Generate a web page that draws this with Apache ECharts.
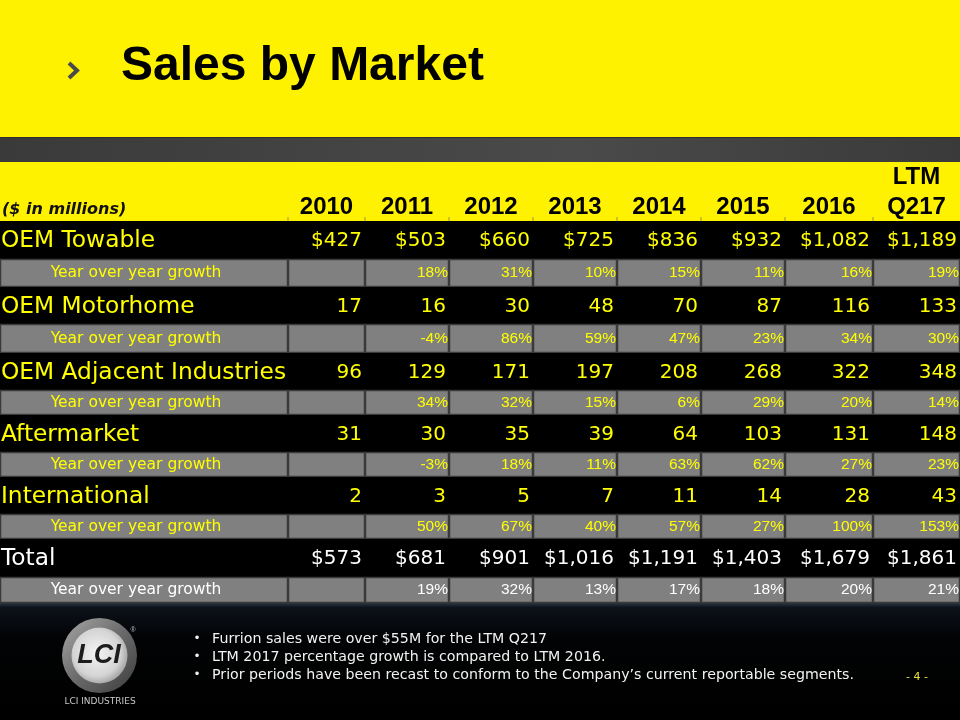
<!DOCTYPE html>
<html><head><meta charset="utf-8">
<script src="https://cdn.jsdelivr.net/npm/echarts@6/dist/echarts.min.js"></script>
<style>html,body{margin:0;padding:0;background:#FFF200;}#c{width:960px;height:720px;}</style>
</head><body><div id="c"></div>
<script>
// ---- data ----
const unitsLabel = '($ in millions)';
const columns = ['2010', '2011', '2012', '2013', '2014', '2015', '2016', 'LTM\nQ217'];
const markets = ['OEM Towable', 'OEM Motorhome', 'OEM Adjacent Industries', 'Aftermarket', 'International', 'Total'];
const growthLabel = 'Year over year growth';
const oemTowable = [427, 503, 660, 725, 836, 932, 1082, 1189];
const oemTowableGrowth = [null, 18, 31, 10, 15, 11, 16, 19];
const oemMotorhome = [17, 16, 30, 48, 70, 87, 116, 133];
const oemMotorhomeGrowth = [null, -4, 86, 59, 47, 23, 34, 30];
const oemAdjacent = [96, 129, 171, 197, 208, 268, 322, 348];
const oemAdjacentGrowth = [null, 34, 32, 15, 6, 29, 20, 14];
const aftermarket = [31, 30, 35, 39, 64, 103, 131, 148];
const aftermarketGrowth = [null, -3, 18, 11, 63, 62, 27, 23];
const international = [2, 3, 5, 7, 11, 14, 28, 43];
const internationalGrowth = [null, 50, 67, 40, 57, 27, 100, 153];
const total = [573, 681, 901, 1016, 1191, 1403, 1679, 1861];
const totalGrowth = [null, 19, 32, 13, 17, 18, 20, 21];
const bullets = [
  'Furrion sales were over $55M for the LTM Q217',
  'LTM 2017 percentage growth is compared to LTM 2016.',
  'Prior periods have been recast to conform to the Company\u2019s current reportable segments.'
];

// ---- layout ----
const colWidths = [288, 77, 84, 84, 84, 84, 84, 88, 87];
const rowHeights = [59, 38, 28, 37, 29, 37, 25, 37, 25, 37, 25, 38, 26];
const colEdge = [0]; colWidths.forEach(w => colEdge.push(colEdge[colEdge.length - 1] + w));
const rowEdge = [0]; rowHeights.forEach(h => rowEdge.push(rowEdge[rowEdge.length - 1] + h));

const series = [
  [markets[0], oemTowable, oemTowableGrowth, true],
  [markets[1], oemMotorhome, oemMotorhomeGrowth, false],
  [markets[2], oemAdjacent, oemAdjacentGrowth, false],
  [markets[3], aftermarket, aftermarketGrowth, false],
  [markets[4], international, internationalGrowth, false],
  [markets[5], total, totalGrowth, true]
];
const fmt = (v, money) => (money ? '$' : '') + v.toLocaleString('en-US');

const cells = [];
cells.push({c: 0, r: 0, kind: 'header', text: unitsLabel});
columns.forEach((t, i) => cells.push({c: i + 1, r: 0, kind: 'header', text: t}));
series.forEach((s, k) => {
  const rMain = 1 + k * 2, rG = rMain + 1;
  const isTotal = k === series.length - 1;
  cells.push({c: 0, r: rMain, kind: 'main', text: s[0], total: isTotal});
  s[1].forEach((v, i) => cells.push({c: i + 1, r: rMain, kind: 'main', text: fmt(v, s[3]), total: isTotal}));
  cells.push({c: 0, r: rG, kind: 'growth', text: growthLabel, total: isTotal});
  s[2].forEach((v, i) => cells.push({c: i + 1, r: rG, kind: 'growth', text: v == null ? '' : v + '%', total: isTotal}));
});

const YEL = '#FFF200';
const TXT_Y = '#FFFF00';
const chart = echarts.init(document.getElementById('c'), null, {renderer: 'canvas'});

function txt(text, x, y, fill, font, align, extra) {
  return {type: 'text', style: Object.assign({text, x, y, fill, font, textAlign: align, textVerticalAlign: 'middle', align: align, verticalAlign: 'middle'}, extra || {})};
}

function renderItem(params, api) {
  const cell = cells[params.dataIndex];
  const c = api.value(0), r = api.value(1);
  const p0 = api.coord([colEdge[c], rowEdge[r]]);
  const p1 = api.coord([colEdge[c + 1], rowEdge[r + 1]]);
  const x0 = p0[0], y0 = p0[1], w = p1[0] - p0[0], h = p1[1] - p0[1];
  const yc = y0 + h / 2;
  const children = [];
  if (cell.kind === 'header') {
    children.push({type: 'rect', shape: {x: x0, y: y0, width: w, height: h}, style: {fill: YEL}});
    if (c > 0) {
      children.push({type: 'rect', shape: {x: x0 - 0.5, y: y0 + h - 4, width: 1, height: 4}, style: {fill: '#9b9550'}});
    }
    if (c === 0) {
      children.push(txt(cell.text, x0 + 2, y0 + 48, '#111', 'italic bold 16px "DejaVu Sans"', 'left'));
    } else {
      const multi = cell.text.indexOf('\n') >= 0;
      children.push(txt(cell.text, x0 + w / 2, multi ? y0 + 30 : y0 + 45, '#000', 'bold 24px "Liberation Sans"', 'center', {lineHeight: 30}));
    }
  } else if (cell.kind === 'main') {
    children.push({type: 'rect', shape: {x: x0, y: y0, width: w, height: h}, style: {fill: '#000'}});
    const col = cell.total ? '#ffffff' : TXT_Y;
    if (c === 0) {
      children.push(txt(cell.text, x0 + 1, yc + 1, col, '23.3px "DejaVu Sans"', 'left'));
    } else {
      children.push(txt(cell.text, x0 + w - 3, yc + 1, col, '20px "DejaVu Sans"', 'right'));
    }
  } else {
    children.push({type: 'rect', shape: {x: x0 + 0.5, y: y0 + 0.5, width: w - 1, height: h - 1},
      style: {fill: '#808080', stroke: '#3a3a3a', lineWidth: 1.5}});
    const col = cell.total ? '#ffffff' : TXT_Y;
    if (c === 0) {
      children.push(txt(cell.text, x0 + 136, yc, col, '15.5px "DejaVu Sans"', 'center'));
    } else {
      children.push(txt(cell.text, x0 + w - 1, yc, col, '15.5px "Liberation Sans"', 'right'));
    }
  }
  return {type: 'group', children};
}

const graphics = [
  {type: 'rect', shape: {x: 0, y: 137, width: 960, height: 25}, style: {fill: new echarts.graphic.LinearGradient(0, 0, 1, 0, [
    {offset: 0, color: '#3a3a3a'}, {offset: 0.6, color: '#4a4a4a'}, {offset: 1, color: '#3a3a3a'}])}, z: 1},
  {type: 'rect', shape: {x: 0, y: 137, width: 960, height: 1}, style: {fill: '#2e2e2e'}, z: 2},
  {type: 'polyline', shape: {points: [[69, 63], [77, 70.5], [69, 78]]}, style: {stroke: '#4a4a4a', lineWidth: 4, fill: null}, z: 2},
  txt('Sales by Market', 121, 67, '#000', 'bold 48px "Liberation Sans"', 'left'),
  {type: 'rect', shape: {x: 0, y: 603, width: 960, height: 117}, style: {fill: new echarts.graphic.LinearGradient(0, 0, 0, 1, [
    {offset: 0, color: '#2b3542'}, {offset: 0.04, color: '#0c121a'}, {offset: 0.3, color: '#020304'}, {offset: 1, color: '#000'}])}, z: 1},
  {type: 'circle', shape: {cx: 99.5, cy: 655.5, r: 37.5}, style: {fill: new echarts.graphic.LinearGradient(0, 0, 1, 1, [
    {offset: 0, color: '#a8a8a8'}, {offset: 0.5, color: '#6a6a6a'}, {offset: 1, color: '#3c3c3c'}])}, z: 2},
  {type: 'circle', shape: {cx: 99.5, cy: 655.5, r: 28}, style: {fill: new echarts.graphic.RadialGradient(0.45, 0.45, 0.6, [
    {offset: 0, color: '#f4f4f4'}, {offset: 0.7, color: '#d4d4d4'}, {offset: 1, color: '#9a9a9a'}])}, z: 3},
  txt('LCI', 99, 656, '#1c1c1c', 'italic bold 27px "Liberation Sans"', 'center'),
  txt('\u00AE', 133, 630, '#bbbbbb', '7px "Liberation Sans"', 'center'),
  txt('LCI INDUSTRIES', 100, 702, '#c8c8c8', '9px "DejaVu Sans"', 'center'),
  txt('- 4 -', 917, 677, '#e6e03a', '11px "DejaVu Sans"', 'center')
];
graphics.forEach(g => { if (g.z == null) g.z = 4; });
bullets.forEach((b, i) => {
  const y = 639 + i * 18;
  graphics.push(Object.assign(txt('\u2022', 197, y, '#f0f0f0', '12px "DejaVu Sans"', 'center'), {z: 4}));
  graphics.push(Object.assign(txt(b, 212, y, '#f2f2f2', '14.2px "DejaVu Sans"', 'left'), {z: 4}));
});

chart.setOption({
  backgroundColor: YEL,
  animation: false,
  grid: {left: 0, right: 0, top: 162, bottom: 117},
  xAxis: {type: 'value', min: 0, max: colEdge[colEdge.length - 1], show: false},
  yAxis: {type: 'value', min: 0, max: rowEdge[rowEdge.length - 1], inverse: true, show: false},
  graphic: {elements: graphics},
  series: [{
    type: 'custom',
    renderItem: renderItem,
    encode: {x: 0, y: 1},
    data: cells.map(cl => [cl.c, cl.r]),
    z: 3
  }]
});
</script></body></html>
